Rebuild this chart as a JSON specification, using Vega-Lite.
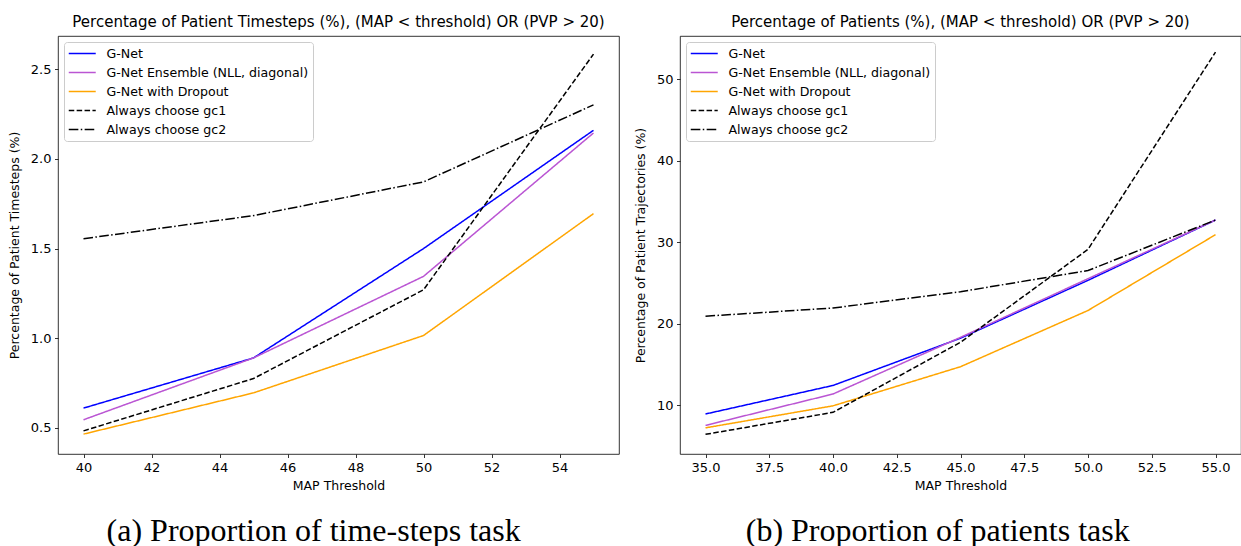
{
  "$schema": "https://vega.github.io/schema/vega-lite/v6.json",
  "background": "white",
  "padding": {"left": 7, "top": 14, "right": 0, "bottom": 0},
  "config": {
    "font": "DejaVu Sans",
    "view": {"stroke": "black", "strokeWidth": 0.8},
    "axis": {
      "domain": false, "grid": false,
      "tickColor": "black", "tickSize": 3.5, "tickWidth": 0.8,
      "labelFont": "DejaVu Sans", "labelFontSize": 13, "labelColor": "black", "labelPadding": 3.5,
      "titleFont": "DejaVu Sans", "titleFontSize": 12.5, "titleFontWeight": "normal", "titleColor": "black"
    },
    "axisX": {"titlePadding": 5},
    "axisY": {"titlePadding": 9},
    "legend": {
      "orient": "top-left", "offset": 6, "title": null,
      "fillColor": "white", "strokeColor": "#cccccc", "cornerRadius": 3, "padding": 4,
      "symbolType": "M-1,0H3", "symbolSize": 182, "symbolStrokeWidth": 1.5,
      "labelFont": "DejaVu Sans", "labelFontSize": 12.6, "labelColor": "black", "labelLimit": 0,
      "labelOffset": 23.5, "rowPadding": 4
    }
  },
  "datasets": {
    "timesteps": [
      {"threshold": 40, "pct": 0.61, "series": "G-Net"},
      {"threshold": 45, "pct": 0.89, "series": "G-Net"},
      {"threshold": 50, "pct": 1.50, "series": "G-Net"},
      {"threshold": 55, "pct": 2.16, "series": "G-Net"},
      {"threshold": 40, "pct": 0.545, "series": "G-Net Ensemble (NLL, diagonal)"},
      {"threshold": 45, "pct": 0.89, "series": "G-Net Ensemble (NLL, diagonal)"},
      {"threshold": 50, "pct": 1.345, "series": "G-Net Ensemble (NLL, diagonal)"},
      {"threshold": 55, "pct": 2.145, "series": "G-Net Ensemble (NLL, diagonal)"},
      {"threshold": 40, "pct": 0.465, "series": "G-Net with Dropout"},
      {"threshold": 45, "pct": 0.695, "series": "G-Net with Dropout"},
      {"threshold": 50, "pct": 1.015, "series": "G-Net with Dropout"},
      {"threshold": 55, "pct": 1.695, "series": "G-Net with Dropout"},
      {"threshold": 40, "pct": 0.483, "series": "Always choose gc1"},
      {"threshold": 45, "pct": 0.775, "series": "Always choose gc1"},
      {"threshold": 50, "pct": 1.27, "series": "Always choose gc1"},
      {"threshold": 55, "pct": 2.585, "series": "Always choose gc1"},
      {"threshold": 40, "pct": 1.555, "series": "Always choose gc2"},
      {"threshold": 45, "pct": 1.684, "series": "Always choose gc2"},
      {"threshold": 50, "pct": 1.872, "series": "Always choose gc2"},
      {"threshold": 55, "pct": 2.302, "series": "Always choose gc2"}
    ],
    "patients": [
      {"threshold": 35, "pct": 8.9, "series": "G-Net"},
      {"threshold": 40, "pct": 12.4, "series": "G-Net"},
      {"threshold": 45, "pct": 18.2, "series": "G-Net"},
      {"threshold": 50, "pct": 25.3, "series": "G-Net"},
      {"threshold": 55, "pct": 32.7, "series": "G-Net"},
      {"threshold": 35, "pct": 7.5, "series": "G-Net Ensemble (NLL, diagonal)"},
      {"threshold": 40, "pct": 11.35, "series": "G-Net Ensemble (NLL, diagonal)"},
      {"threshold": 45, "pct": 18.3, "series": "G-Net Ensemble (NLL, diagonal)"},
      {"threshold": 50, "pct": 25.5, "series": "G-Net Ensemble (NLL, diagonal)"},
      {"threshold": 55, "pct": 32.7, "series": "G-Net Ensemble (NLL, diagonal)"},
      {"threshold": 35, "pct": 7.2, "series": "G-Net with Dropout"},
      {"threshold": 40, "pct": 9.9, "series": "G-Net with Dropout"},
      {"threshold": 45, "pct": 14.7, "series": "G-Net with Dropout"},
      {"threshold": 50, "pct": 21.6, "series": "G-Net with Dropout"},
      {"threshold": 55, "pct": 30.9, "series": "G-Net with Dropout"},
      {"threshold": 35, "pct": 6.4, "series": "Always choose gc1"},
      {"threshold": 40, "pct": 9.1, "series": "Always choose gc1"},
      {"threshold": 45, "pct": 17.7, "series": "Always choose gc1"},
      {"threshold": 50, "pct": 29.1, "series": "Always choose gc1"},
      {"threshold": 55, "pct": 53.3, "series": "Always choose gc1"},
      {"threshold": 35, "pct": 20.9, "series": "Always choose gc2"},
      {"threshold": 40, "pct": 21.9, "series": "Always choose gc2"},
      {"threshold": 45, "pct": 23.9, "series": "Always choose gc2"},
      {"threshold": 50, "pct": 26.5, "series": "Always choose gc2"},
      {"threshold": 55, "pct": 32.7, "series": "Always choose gc2"}
    ]
  },
  "hconcat": [
    {
      "title": {"text": "(a) Proportion of time-steps task", "orient": "bottom", "anchor": "middle", "frame": "bounds",
                "font": "Liberation Serif", "fontSize": 32, "fontWeight": "normal", "color": "black", "offset": 24},
      "vconcat": [
        {
          "width": 561, "height": 418,
          "title": {"text": "Percentage of Patient Timesteps (%), (MAP < threshold) OR (PVP > 20)",
                    "font": "DejaVu Sans", "fontSize": 15, "fontWeight": "normal", "color": "black", "offset": 6},
          "data": {"name": "timesteps"},
          "mark": {"type": "line", "strokeWidth": 1.5},
          "encoding": {
            "x": {"field": "threshold", "type": "quantitative",
                  "scale": {"domain": [39.25, 55.75], "nice": false, "zero": false},
                  "axis": {"title": "MAP Threshold", "values": [40, 42, 44, 46, 48, 50, 52, 54], "format": "d"}},
            "y": {"field": "pct", "type": "quantitative",
                  "scale": {"domain": [0.354, 2.686], "nice": false, "zero": false},
                  "axis": {"title": "Percentage of Patient Timesteps (%)", "values": [0.5, 1.0, 1.5, 2.0, 2.5], "format": ".1f"}},
            "color": {"field": "series", "type": "nominal",
                      "scale": {"domain": ["G-Net", "G-Net Ensemble (NLL, diagonal)", "G-Net with Dropout", "Always choose gc1", "Always choose gc2"],
                                "range": ["#0000ff", "#ba55d3", "#ffa500", "#000000", "#000000"]}},
            "strokeDash": {"field": "series", "type": "nominal",
                           "scale": {"domain": ["G-Net", "G-Net Ensemble (NLL, diagonal)", "G-Net with Dropout", "Always choose gc1", "Always choose gc2"],
                                     "range": [[1, 0], [1, 0], [1, 0], [5.5, 2.4], [9.6, 2.4, 1.5, 2.4]]}}
          }
        }
      ]
    },
    {
      "title": {"text": "(b) Proportion of patients task", "orient": "bottom", "anchor": "middle", "frame": "bounds",
                "font": "Liberation Serif", "fontSize": 32, "fontWeight": "normal", "color": "black", "offset": 24},
      "vconcat": [
        {
          "width": 561, "height": 418,
          "title": {"text": "Percentage of Patients (%), (MAP < threshold) OR (PVP > 20)",
                    "font": "DejaVu Sans", "fontSize": 15, "fontWeight": "normal", "color": "black", "offset": 6},
          "data": {"name": "patients"},
          "mark": {"type": "line", "strokeWidth": 1.5},
          "encoding": {
            "x": {"field": "threshold", "type": "quantitative",
                  "scale": {"domain": [34, 56], "nice": false, "zero": false},
                  "axis": {"title": "MAP Threshold", "values": [35, 37.5, 40, 42.5, 45, 47.5, 50, 52.5, 55], "format": ".1f"}},
            "y": {"field": "pct", "type": "quantitative",
                  "scale": {"domain": [3.99, 55.28], "nice": false, "zero": false},
                  "axis": {"title": "Percentage of Patient Trajectories (%)", "values": [10, 20, 30, 40, 50], "format": "d"}},
            "color": {"field": "series", "type": "nominal",
                      "scale": {"domain": ["G-Net", "G-Net Ensemble (NLL, diagonal)", "G-Net with Dropout", "Always choose gc1", "Always choose gc2"],
                                "range": ["#0000ff", "#ba55d3", "#ffa500", "#000000", "#000000"]}},
            "strokeDash": {"field": "series", "type": "nominal",
                           "scale": {"domain": ["G-Net", "G-Net Ensemble (NLL, diagonal)", "G-Net with Dropout", "Always choose gc1", "Always choose gc2"],
                                     "range": [[1, 0], [1, 0], [1, 0], [5.5, 2.4], [9.6, 2.4, 1.5, 2.4]]}}
          }
        }
      ]
    }
  ],
  "spacing": 14,
  "resolve": {"scale": {"color": "independent", "strokeDash": "independent"}}
}
